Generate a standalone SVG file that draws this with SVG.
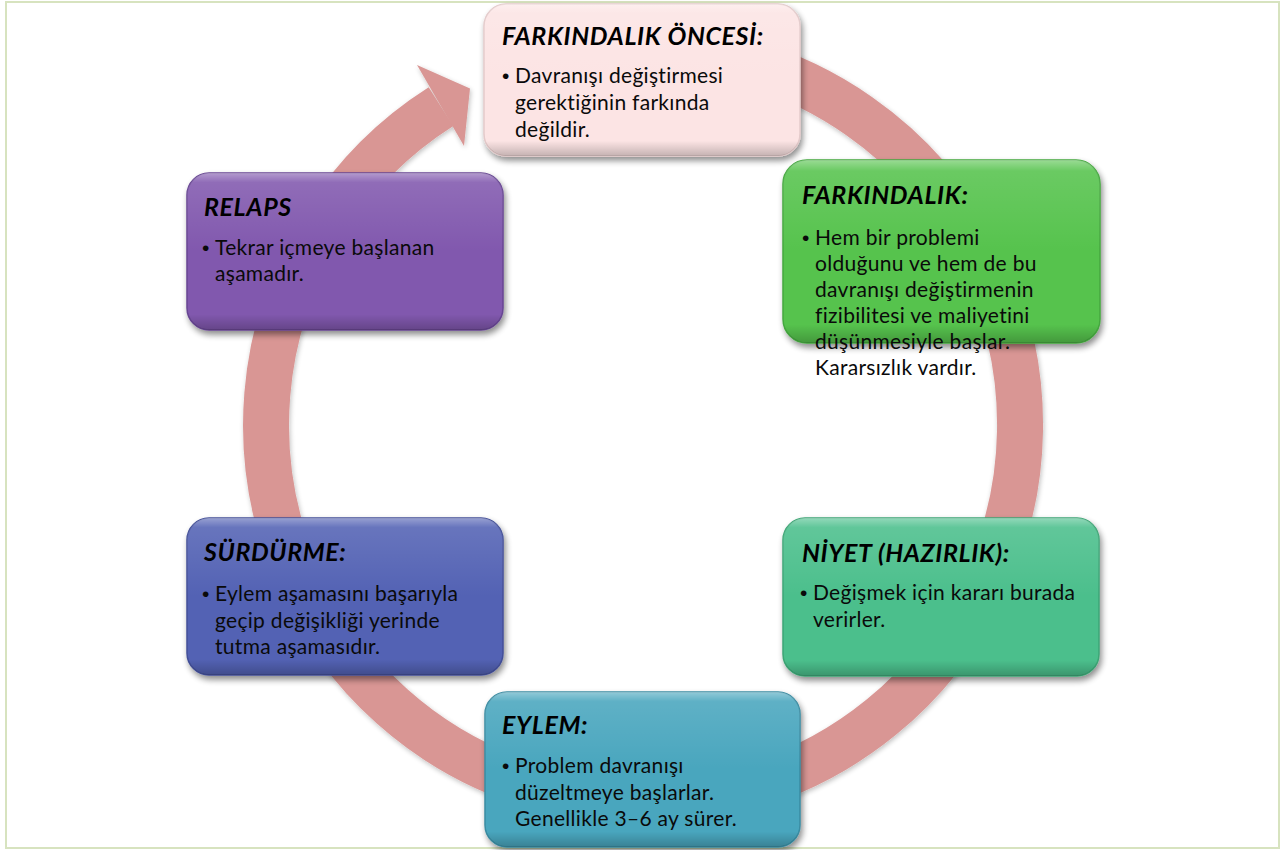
<svg xmlns="http://www.w3.org/2000/svg" width="1281" height="850" viewBox="0 0 1281 850">
<defs>
<style>
.title{font-family:Lato,"Liberation Sans",sans-serif;font-weight:bold;font-style:italic;font-size:25px;letter-spacing:0.6px;fill:#000}
.body{font-family:Lato,"Liberation Sans",sans-serif;font-size:21px;letter-spacing:0.3px;fill:#0a0a0a}
.bullet{font-family:"Liberation Sans",sans-serif;font-size:21px;fill:#0a0a0a}
.gloss{fill:url(#gloss)}
</style>
<linearGradient id="gloss" x1="0" y1="0" x2="0" y2="1">
<stop offset="0" stop-color="#fff" stop-opacity="0.4"/>
<stop offset="0.06" stop-color="#fff" stop-opacity="0.12"/>
<stop offset="0.5" stop-color="#fff" stop-opacity="0"/>
<stop offset="0.9" stop-color="#000" stop-opacity="0"/>
<stop offset="1" stop-color="#000" stop-opacity="0.22"/>
</linearGradient>
<filter id="shadow" x="-10%" y="-10%" width="125%" height="130%">
<feGaussianBlur in="SourceAlpha" stdDeviation="3"/>
<feOffset dx="2" dy="4" result="b"/>
<feComponentTransfer><feFuncA type="linear" slope="0.45"/></feComponentTransfer>
<feMerge><feMergeNode/><feMergeNode in="SourceGraphic"/></feMerge>
</filter>
<filter id="rshadow" x="-10%" y="-10%" width="120%" height="120%">
<feGaussianBlur in="SourceAlpha" stdDeviation="2.5"/>
<feOffset dx="1" dy="2"/>
<feComponentTransfer><feFuncA type="linear" slope="0.25"/></feComponentTransfer>
<feMerge><feMergeNode/><feMergeNode in="SourceGraphic"/></feMerge>
</filter>
</defs>
<rect x="6" y="2" width="1273" height="846" fill="#fff" stroke="#D7E3BF" stroke-width="2"/>

<g id="connectors" filter="url(#rshadow)">
<path d="M708.5,53.7 A377,377 0 1 1 441,106.7" fill="none" stroke="#D99694" stroke-width="46"/>
<polygon points="417,65 470,88.5 464,146" fill="#D99694"/>
</g>

<g id="node-farkindalik-oncesi">
<rect x="484" y="4" width="316" height="152" rx="22" fill="#FCE4E4" stroke="#E3CACA" stroke-width="1.5" filter="url(#shadow)"/>
<rect x="484" y="4" width="316" height="152" rx="22" class="gloss"/>
<text class="title" x="502" y="45">FARKINDALIK ÖNCESİ:</text>
<text class="bullet" x="502" y="83">•</text>
<text class="body" x="515" y="83">Davranışı değiştirmesi</text>
<text class="body" x="515" y="110">gerektiğinin farkında</text>
<text class="body" x="515" y="137">değildir.</text>
</g>

<g id="node-farkindalik">
<rect x="783" y="160" width="317" height="183" rx="24" fill="#56C34E" stroke="#45A83F" stroke-width="1.5" filter="url(#shadow)"/>
<rect x="783" y="160" width="317" height="183" rx="24" class="gloss"/>
<text class="title" x="802" y="204">FARKINDALIK:</text>
<text class="bullet" x="802" y="245">•</text>
<text class="body" x="815" y="245">Hem bir problemi</text>
<text class="body" x="815" y="271">olduğunu ve hem de bu</text>
<text class="body" x="815" y="297">davranışı değiştirmenin</text>
<text class="body" x="815" y="323">fizibilitesi ve maliyetini</text>
<text class="body" x="815" y="349">düşünmesiyle başlar.</text>
<text class="body" x="815" y="375">Kararsızlık vardır.</text>
</g>

<g id="node-niyet">
<rect x="783" y="518" width="316" height="158" rx="22" fill="#4CBF8C" stroke="#3DA575" stroke-width="1.5" filter="url(#shadow)"/>
<rect x="783" y="518" width="316" height="158" rx="22" class="gloss"/>
<text class="title" x="802" y="562">NİYET (HAZIRLIK):</text>
<text class="bullet" x="800" y="600">•</text>
<text class="body" x="813" y="600">Değişmek için kararı burada</text>
<text class="body" x="813" y="627">verirler.</text>
</g>

<g id="node-eylem">
<rect x="485" y="692" width="315" height="155" rx="22" fill="#4AA6BE" stroke="#3A8CA2" stroke-width="1.5" filter="url(#shadow)"/>
<rect x="485" y="692" width="315" height="155" rx="22" class="gloss"/>
<text class="title" x="502" y="734">EYLEM:</text>
<text class="bullet" x="502" y="773">•</text>
<text class="body" x="515" y="773">Problem davranışı</text>
<text class="body" x="515" y="800">düzeltmeye başlarlar.</text>
<text class="body" x="515" y="826">Genellikle 3–6 ay sürer.</text>
</g>

<g id="node-surdurme">
<rect x="187" y="518" width="316" height="157" rx="22" fill="#5362B4" stroke="#434F98" stroke-width="1.5" filter="url(#shadow)"/>
<rect x="187" y="518" width="316" height="157" rx="22" class="gloss"/>
<text class="title" x="204" y="561">SÜRDÜRME:</text>
<text class="bullet" x="202" y="601">•</text>
<text class="body" x="215" y="601">Eylem aşamasını başarıyla</text>
<text class="body" x="215" y="628">geçip değişikliği yerinde</text>
<text class="body" x="215" y="654">tutma aşamasıdır.</text>
</g>

<g id="node-relaps">
<rect x="187" y="173" width="316" height="157" rx="22" fill="#8159AE" stroke="#684693" stroke-width="1.5" filter="url(#shadow)"/>
<rect x="187" y="173" width="316" height="157" rx="22" class="gloss"/>
<text class="title" x="204" y="216">RELAPS</text>
<text class="bullet" x="202" y="255">•</text>
<text class="body" x="215" y="255">Tekrar içmeye başlanan</text>
<text class="body" x="215" y="281">aşamadır.</text>
</g>
</svg>
